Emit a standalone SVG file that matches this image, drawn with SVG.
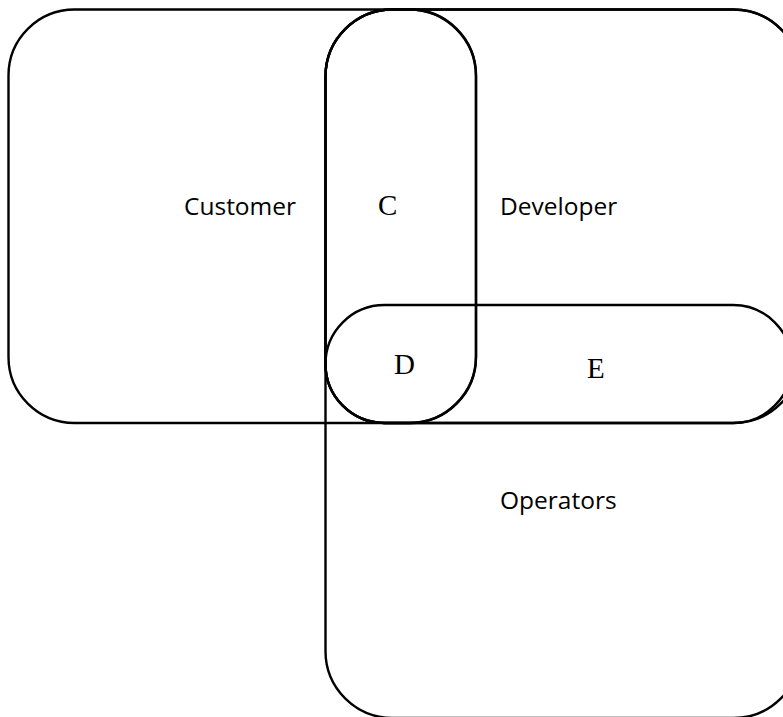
<svg xmlns="http://www.w3.org/2000/svg" width="783" height="717" viewBox="0 0 783 717">
  <style>
    .set { fill: none; stroke: #000; stroke-width: 2.4; }
    .label { font-family: "Open Sans", "Liberation Sans", sans-serif; font-size: 24.5px; fill: #000; }
    .mark { font-family: "Liberation Serif", "Times New Roman", serif; font-size: 29px; fill: #000; }
  </style>
  <rect width="783" height="717" fill="#fff"/>

  <!-- Operators: large set reaching down past the others -->
  <g id="operators">
    <rect class="set" x="325.5" y="9.5" width="475" height="708.5" rx="67" ry="67"/>
    <text class="label" x="500" y="509">Operators</text>
  </g>

  <!-- Developer: upper right set; lower-left corner shares the E pill's end -->
  <g id="developer">
    <path class="set" d="M392.5,9.5 H733.5 A67,67 0 0 1 800.5,76.5 V356 A67,67 0 0 1 733.5,423 H384.5 A59,59 0 0 1 325.5,364 V76.5 A67,67 0 0 1 392.5,9.5 Z"/>
    <text class="label" x="500" y="215">Developer</text>
  </g>

  <!-- Customer: upper left set -->
  <g id="customer">
    <rect class="set" x="8.5" y="9.5" width="467.5" height="413.5" rx="66" ry="66"/>
    <text class="label" x="184" y="215">Customer</text>
  </g>

  <!-- C: vertical overlap pill; its lower-left corner follows the E pill's end -->
  <g id="region-c">
    <path class="set" d="M392.5,9.5 H409 A67,67 0 0 1 476,76.5 V356 A67,67 0 0 1 409,423 H384.5 A59,59 0 0 1 325.5,364 V76.5 A67,67 0 0 1 392.5,9.5 Z"/>
    <text class="mark" x="378" y="215">C</text>
  </g>

  <!-- E: horizontal overlap pill -->
  <g id="region-e">
    <rect class="set" x="325.5" y="305" width="466.5" height="118" rx="59" ry="59"/>
    <text class="mark" x="587" y="378">E</text>
  </g>

  <!-- D: where the two pills cross -->
  <g id="region-d">
    <text class="mark" x="394" y="374">D</text>
  </g>

  <g id="connectors"/>
</svg>
